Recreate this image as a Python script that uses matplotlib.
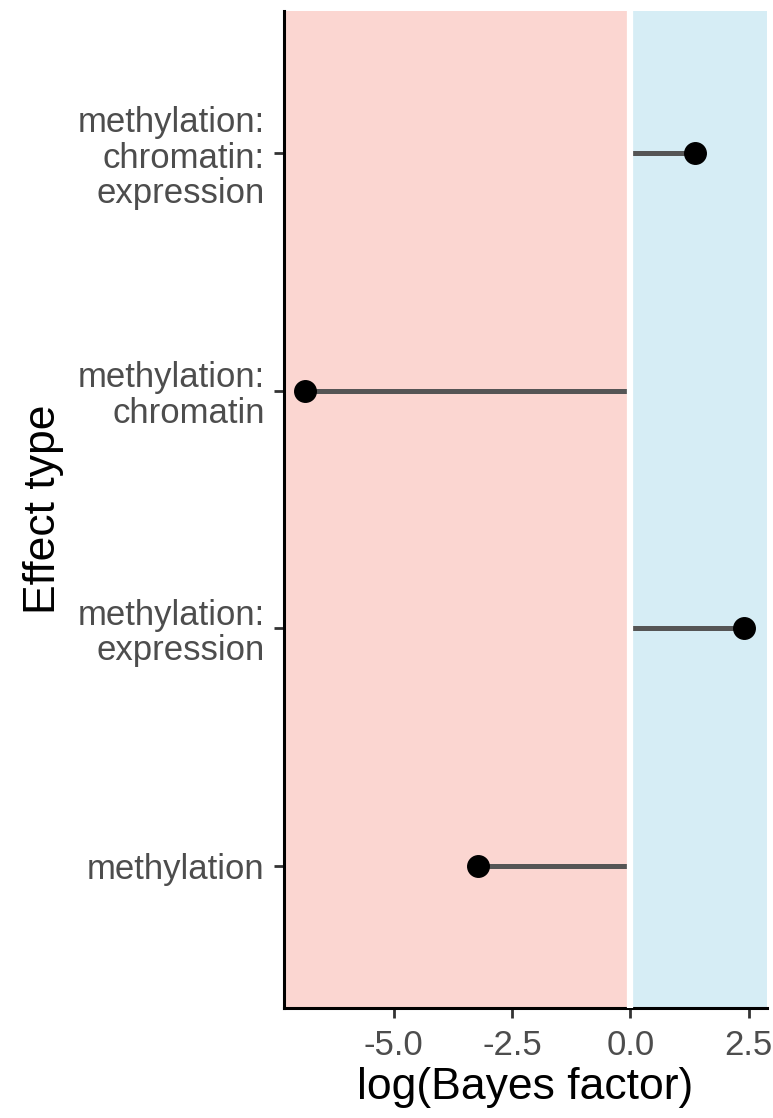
import matplotlib
matplotlib.use('Agg')
import matplotlib.pyplot as plt
import numpy as np

plt.rcParams['font.family'] = ['Liberation Sans', 'DejaVu Sans']

# effect types, bottom to top
effect_types = ['methylation',
                'methylation:\nexpression',
                'methylation:\nchromatin',
                'methylation:\nchromatin:\nexpression']
log_bf = [-3.21, 2.41, -6.87, 1.37]
x_ticks = [-5.0, -2.5, 0.0, 2.5]

fig = plt.figure(figsize=(7.73, 11.18), dpi=100)
ax = fig.add_axes([0.3674, 0.0984, 0.9922 - 0.3674, 0.9902 - 0.0984])

x_min, x_max = -7.32, 2.89
ax.axvspan(x_min, 0, color='#FBD6D1', lw=0, zorder=0)
ax.axvspan(0, x_max, color='#D6EDF5', lw=0, zorder=0)

y_pos = np.arange(1, len(effect_types) + 1)
ax.hlines(y_pos, 0, log_bf, color='#555555', lw=3.6, zorder=2)
ax.axvline(0, color='white', lw=4.5, zorder=3)
ax.plot(log_bf, y_pos, 'o', color='black', ms=15.5, zorder=4)

ax.set_xlim(x_min, x_max)
ax.set_ylim(0.4, len(effect_types) + 0.6)
ax.set_xticks(x_ticks)
ax.set_xticklabels(['%.1f' % t for t in x_ticks])
ax.set_yticks(y_pos)
ax.set_yticklabels(effect_types, ha='right', linespacing=1.1)

for s in ['top', 'right']:
    ax.spines[s].set_visible(False)
for s in ['left', 'bottom']:
    ax.spines[s].set_linewidth(2.2)
    ax.spines[s].set_color('black')

ax.tick_params(axis='both', length=7, width=2.0, color='#333333',
               labelsize=25, labelcolor='#4D4D4D')
ax.tick_params(axis='y', pad=7)
ax.tick_params(axis='x', pad=8)

ax.set_xlabel('log(Bayes factor)', fontsize=32, labelpad=4)
ax.set_ylabel('Effect type', fontsize=32, labelpad=10)

fig.savefig('out.png', dpi=100)
